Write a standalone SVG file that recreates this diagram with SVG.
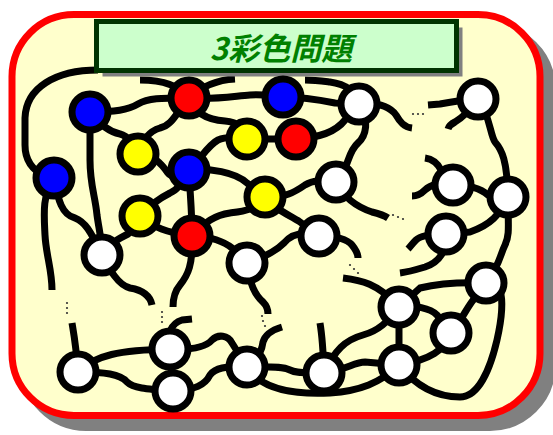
<svg xmlns="http://www.w3.org/2000/svg" width="553" height="435" viewBox="0 0 553 435">
<defs>
<style>
.e{fill:none;stroke:#000;stroke-width:7;stroke-linecap:butt;stroke-linejoin:round}
.n{stroke:#000;stroke-width:7}
.b{fill:#0000FF}.r{fill:#FF0000}.y{fill:#FFFF00}.w{fill:#FFFFFF}
.d{fill:#333}
</style>
</defs>
<g id="frame">
<rect x="24" y="26.5" width="528" height="401" rx="62" ry="62" fill="#808080" stroke="#808080" stroke-width="7"/>
<rect x="12" y="14.5" width="528" height="401" rx="62" ry="62" fill="#FFFFCC" stroke="#FF0000" stroke-width="7"/>
</g>
<g id="connectors">
<path class="e" d="M98 70 C55 70 26 88 25 118 L25 145 C25 160 32 170 45 176"/>
<path class="e" d="M90 112 C115 112 128 110 138 104 C148 98 160 98 189 98"/>
<path class="e" d="M90 112 C100 125 110 132 120 134 C128 136 135 145 138 154"/>
<path class="e" d="M90 112 L90 160 C90 185 95 195 97 215 C99 230 102 240 102 255"/>
<path class="e" d="M189 98 C175 115 172 125 160 128 C150 131 142 140 138 154"/>
<path class="e" d="M189 98 C180 86 165 80 140 80"/>
<path class="e" d="M189 98 C200 88 215 80 235 79"/>
<path class="e" d="M189 98 C215 100 235 96 250 95 S270 96 283 97"/>
<path class="e" d="M189 98 C195 115 210 120 225 121 C238 122 245 128 247 139"/>
<path class="e" d="M283 97 C305 97 320 100 335 103 L359 104"/>
<path class="e" d="M359 104 C355 90 345 84 330 82 C322 81 315 80 305 80"/>
<path class="e" d="M359 104 C380 102 390 107 396 115 C400 122 404 127 412 128"/>
<path class="e" d="M359 104 C370 120 366 136 358 143 C350 150 349 160 345 168 L336 182"/>
<path class="e" d="M296 139 C315 138 335 133 345 120 L359 104"/>
<path class="e" d="M247 139 L296 139"/>
<path class="e" d="M189 170 C200 160 208 145 218 140 C225 137 235 137 247 139"/>
<path class="e" d="M138 154 C155 155 162 165 168 173 C172 178 180 175 189 170"/>
<path class="e" d="M140 216 C150 205 160 198 170 193 C178 190 182 182 189 170"/>
<path class="e" d="M189 170 C190 195 192 210 192 236"/>
<path class="e" d="M189 170 C210 168 235 172 247 183 L265 197"/>
<path class="e" d="M192 236 C205 222 215 215 230 213 C245 211 255 210 265 197"/>
<path class="e" d="M140 216 C155 228 165 232 192 236"/>
<path class="e" d="M102 255 C110 243 120 238 128 234 L140 216"/>
<path class="e" d="M54 178 C58 200 62 215 75 218 C85 222 90 230 102 255"/>
<path class="e" d="M54 178 C42 195 44 215 45 235 C46 255 52 270 52 290"/>
<path class="e" d="M102 255 C110 270 118 285 130 288 C142 290 150 295 152 305"/>
<path class="e" d="M192 236 C193 265 188 275 180 285 C174 292 173 300 173 307"/>
<path class="e" d="M192 236 C210 236 225 242 232 248 L247 263"/>
<path class="e" d="M247 263 C262 258 275 252 284 243 C290 236 300 230 319 236"/>
<path class="e" d="M247 263 C250 285 255 295 263 302 C267 306 268 310 268 314"/>
<path class="e" d="M265 197 C285 198 295 192 305 185 C313 180 320 180 336 182"/>
<path class="e" d="M265 197 C275 210 290 215 300 222 L319 236"/>
<path class="e" d="M336 182 C345 200 360 208 372 212 C380 214 385 216 388 218"/>
<path class="e" d="M319 236 C335 235 348 240 352 245 C356 250 358 254 358 258"/>
<path class="e" d="M478 99 C465 100 450 102 440 104 L428 105"/>
<path class="e" d="M478 99 C470 110 462 118 455 122 C451 124 449 126 448 129"/>
<path class="e" d="M478 99 C490 115 490 135 495 142 C502 150 507 160 508 197"/>
<path class="e" d="M425 158 C432 159 438 164 441 170 L453 185"/>
<path class="e" d="M453 185 C440 182 430 185 425 190 C421 194 417 196 412 196"/>
<path class="e" d="M453 185 C470 185 480 188 488 195 L508 197"/>
<path class="e" d="M508 197 C500 215 490 225 470 232 L446 234"/>
<path class="e" d="M446 234 C430 234 420 236 416 240 C412 244 410 247 408 249"/>
<path class="e" d="M446 234 C447 250 440 262 425 267 C415 270 408 272 400 273"/>
<path class="e" d="M508 197 C508 225 510 235 505 245 C500 255 500 265 486 283"/>
<path class="e" d="M486 283 C460 282 440 283 420 288 L399 307"/>
<path class="e" d="M343 278 C360 280 378 283 399 307"/>
<path class="e" d="M399 307 C415 305 430 308 437 315 L451 333"/>
<path class="e" d="M451 333 C462 320 468 305 475 298 L486 283"/>
<path class="e" d="M399 307 L399 365"/>
<path class="e" d="M451 333 C445 350 430 360 399 365"/>
<path class="e" d="M399 365 C415 385 435 397 460 397 C478 397 490 370 497 340 C502 318 503 300 500 290"/>
<path class="e" d="M324 373 C345 370 355 362 365 362 L399 365"/>
<path class="e" d="M324 373 C335 350 345 340 363 335 C378 331 388 322 399 307"/>
<path class="e" d="M320 323 C322 335 323 345 324 373"/>
<path class="e" d="M247 367 C265 368 280 365 290 370 C298 374 305 372 324 373"/>
<path class="e" d="M247 367 C260 388 290 395 330 393 C360 391 380 383 399 365"/>
<path class="e" d="M247 367 C258 360 262 350 263 342 C265 335 272 330 282 327"/>
<path class="e" d="M170 349 C190 350 205 348 212 340 C218 334 228 335 232 343 L247 367"/>
<path class="e" d="M173 391 C195 390 205 385 210 375 C215 368 225 366 247 367"/>
<path class="e" d="M170 349 C165 335 172 323 182 320 L192 319"/>
<path class="e" d="M78 372 C95 355 120 350 170 349"/>
<path class="e" d="M78 372 C105 372 120 374 127 382 C133 388 145 389 173 391"/>
<path class="e" d="M72 323 C74 335 76 345 78 372"/>
<path class="e" d="M170 349 L173 391"/>
</g>
<g id="dots">
<circle class="d" cx="413" cy="114" r="1.1"/><circle class="d" cx="418" cy="114" r="1.1"/><circle class="d" cx="423" cy="114" r="1.1"/>
<circle class="d" cx="393" cy="215" r="1.1"/><circle class="d" cx="398" cy="217" r="1.1"/><circle class="d" cx="403" cy="219" r="1.1"/>
<circle class="d" cx="350" cy="265" r="1.1"/><circle class="d" cx="354" cy="269" r="1.1"/><circle class="d" cx="358" cy="273" r="1.1"/>
<circle class="d" cx="262" cy="316" r="1.1"/><circle class="d" cx="263" cy="321" r="1.1"/><circle class="d" cx="265" cy="326" r="1.1"/>
<circle class="d" cx="67" cy="303" r="1.1"/><circle class="d" cx="67" cy="308" r="1.1"/><circle class="d" cx="67" cy="313" r="1.1"/>
<circle class="d" cx="162" cy="312" r="1.1"/><circle class="d" cx="162" cy="317" r="1.1"/><circle class="d" cx="162" cy="322" r="1.1"/>
</g>
<g id="title">
<rect x="102.5" y="27.5" width="360" height="49" fill="#808080"/>
<rect x="96.5" y="21.5" width="360" height="49" fill="#CCFFCC" stroke="#003300" stroke-width="5"/>
<text x="281" y="60" text-anchor="middle" font-family="'Noto Sans CJK JP', 'Noto Sans CJK SC', sans-serif" font-size="31" font-style="italic" font-weight="bold" fill="#008000">3彩色問題</text>
</g>
<g id="n-B1"><circle class="n b" cx="90" cy="112" r="18"/></g>
<g id="n-R1"><circle class="n r" cx="189" cy="98" r="18"/></g>
<g id="n-B2"><circle class="n b" cx="283" cy="97" r="18"/></g>
<g id="n-W1"><circle class="n w" cx="359" cy="104" r="18"/></g>
<g id="n-W2"><circle class="n w" cx="478" cy="99" r="18"/></g>
<g id="n-Y1"><circle class="n y" cx="138" cy="154" r="18"/></g>
<g id="n-Y2"><circle class="n y" cx="247" cy="139" r="18"/></g>
<g id="n-R2"><circle class="n r" cx="296" cy="139" r="18"/></g>
<g id="n-B3"><circle class="n b" cx="189" cy="170" r="18"/></g>
<g id="n-B4"><circle class="n b" cx="54" cy="178" r="18"/></g>
<g id="n-Y3"><circle class="n y" cx="265" cy="197" r="18"/></g>
<g id="n-Y4"><circle class="n y" cx="140" cy="216" r="18"/></g>
<g id="n-R3"><circle class="n r" cx="192" cy="236" r="18"/></g>
<g id="n-W3"><circle class="n w" cx="336" cy="182" r="18"/></g>
<g id="n-W4"><circle class="n w" cx="453" cy="185" r="18"/></g>
<g id="n-W5"><circle class="n w" cx="508" cy="197" r="18"/></g>
<g id="n-W6"><circle class="n w" cx="102" cy="255" r="18"/></g>
<g id="n-W7"><circle class="n w" cx="319" cy="236" r="18"/></g>
<g id="n-W8"><circle class="n w" cx="446" cy="234" r="18"/></g>
<g id="n-W9"><circle class="n w" cx="247" cy="263" r="18"/></g>
<g id="n-W10"><circle class="n w" cx="486" cy="283" r="18"/></g>
<g id="n-W11"><circle class="n w" cx="399" cy="307" r="18"/></g>
<g id="n-W12"><circle class="n w" cx="451" cy="333" r="18"/></g>
<g id="n-W13"><circle class="n w" cx="399" cy="365" r="18"/></g>
<g id="n-W14"><circle class="n w" cx="324" cy="373" r="18"/></g>
<g id="n-W15"><circle class="n w" cx="247" cy="367" r="18"/></g>
<g id="n-W16"><circle class="n w" cx="170" cy="349" r="18"/></g>
<g id="n-W17"><circle class="n w" cx="173" cy="391" r="18"/></g>
<g id="n-W18"><circle class="n w" cx="78" cy="372" r="18"/></g>
</svg>
